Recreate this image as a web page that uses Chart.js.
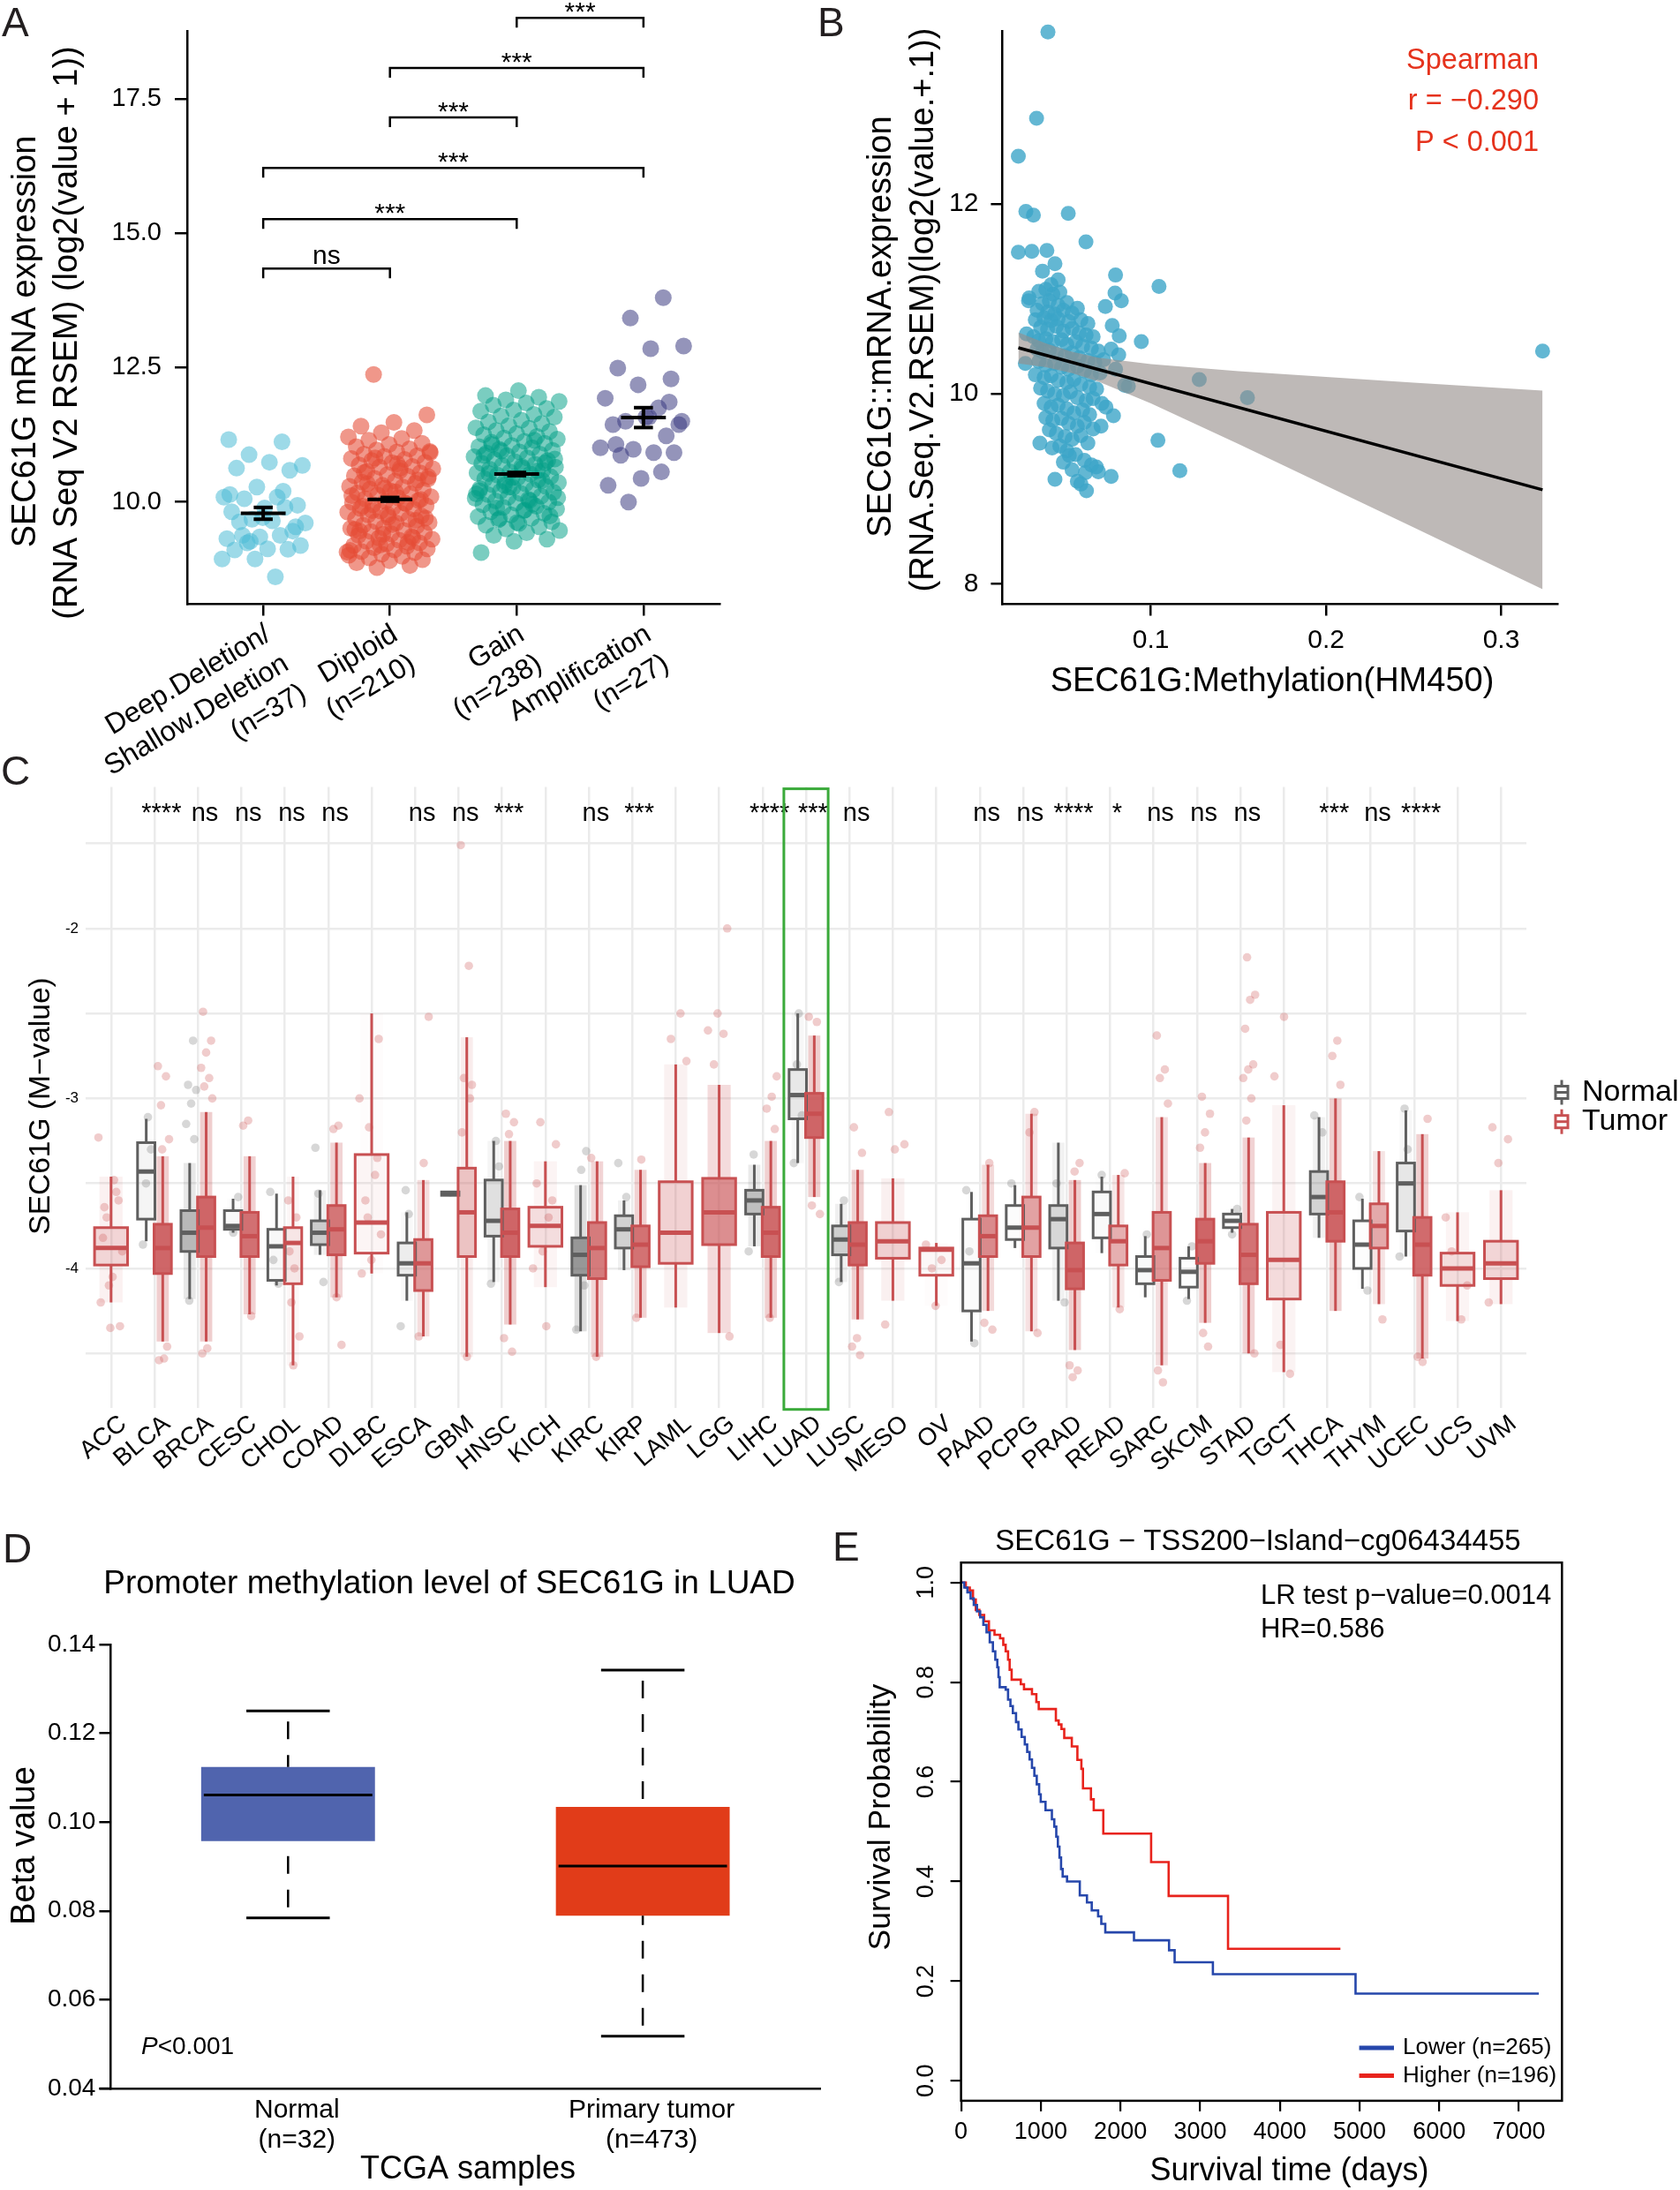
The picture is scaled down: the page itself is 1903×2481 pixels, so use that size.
<!DOCTYPE html>
<html lang="en">
<head>
<meta charset="utf-8">
<title>SEC61G expression and methylation</title>
<script src="https://cdn.jsdelivr.net/npm/chart.js@4.4.1/dist/chart.umd.min.js"></script>
<style>
html, body { margin: 0; padding: 0; background: #fff; }
#page { position: relative; width: 1903px; height: 2481px; overflow: hidden; background: #fff; }
#page canvas { position: absolute; }
.tag { position: absolute; font: 46px 'Liberation Sans', Arial, sans-serif; line-height: 1; color: #231f20; }
</style>
</head>
<body>
<div id="page">
  <canvas id="chartC" width="1903" height="840" style="left:0px;top:860px"></canvas>
  <canvas id="chartA" width="940" height="900" style="left:0px;top:0px"></canvas>
  <canvas id="chartB" width="963" height="860" style="left:940px;top:0px"></canvas>
  <canvas id="chartD" width="950" height="781" style="left:0px;top:1700px"></canvas>
  <canvas id="chartE" width="953" height="781" style="left:950px;top:1700px"></canvas>
  <div class="tag" style="left:2px;top:2px">A</div>
  <div class="tag" style="left:926px;top:2px">B</div>
  <div class="tag" style="left:1px;top:850px">C</div>
  <div class="tag" style="left:3px;top:1731px">D</div>
  <div class="tag" style="left:943px;top:1729px">E</div>
</div>
<script>
// ---- Panel A: expression by copy number ----
const cnvGroups = [['Deep.Deletion/', 'Shallow.Deletion', '(n=37)'], ['Diploid', '(n=210)'], ['Gain', '(n=238)'], ['Amplification', '(n=27)']];
const deepValues = [11.16, 11.12, 10.88, 10.68, 10.74, 10.63, 10.59, 10.28, 10.09, 10.09, 10.06, 9.94, 9.89, 9.82, 9.90, 9.68, 9.61, 9.65, 9.63, 9.46, 9.35, 9.32, 9.38, 9.24, 9.19, 9.13, 9.11, 9.12, 8.94, 8.94, 8.61, 9.38, 9.54, 9.71, 10.14, 10.20, 9.27];
const diploidValues = [12.37, 11.62, 11.48, 11.41, 11.33, 11.29, 11.21, 11.18, 11.15, 11.09, 11.07, 11.03, 10.99, 10.97, 10.94, 10.93, 10.89, 10.86, 10.85, 10.81, 10.79, 10.77, 10.74, 10.73, 10.69, 10.66, 10.65, 10.62, 10.58, 10.57, 10.54, 10.51, 10.49, 10.48, 10.44, 10.43, 10.39, 10.37, 10.35, 10.31, 10.29, 10.28, 10.24, 10.22, 10.21, 10.17, 10.15, 10.13, 10.1, 10.08, 10.06, 10.03, 10.01, 9.99, 9.97, 9.95, 9.93, 9.9, 9.88, 9.87, 9.83, 9.81, 9.79, 9.76, 9.74, 9.72, 9.69, 9.68, 9.64, 9.62, 9.61, 9.57, 9.55, 9.52, 9.51, 9.47, 9.45, 9.43, 9.41, 9.38, 9.36, 9.33, 9.31, 9.29, 9.27, 9.24, 9.22, 9.19, 9.18, 9.15, 9.13, 9.11, 9.08, 9.06, 9.03, 9.01, 8.99, 8.96, 8.93, 8.91, 8.87, 8.82, 8.78, 10.92, 10.71, 10.55, 10.41, 10.26, 10.12, 9.98, 9.84, 9.7, 9.58, 9.46, 9.34, 9.2, 9.07, 10.63, 10.34, 10.05, 9.77, 9.49, 9.25, 10.82, 10.47, 10.19, 9.92, 9.66, 9.4, 9.1];
const gainValues = [12.07, 11.98, 11.95, 11.9, 11.87, 11.84, 11.8, 11.74, 11.71, 11.69, 11.63, 11.6, 11.58, 11.52, 11.49, 11.46, 11.42, 11.38, 11.37, 11.33, 11.31, 11.27, 11.25, 11.22, 11.19, 11.17, 11.13, 11.11, 11.09, 11.05, 11.03, 11.01, 10.98, 10.96, 10.93, 10.91, 10.89, 10.86, 10.84, 10.82, 10.79, 10.77, 10.75, 10.72, 10.7, 10.68, 10.65, 10.63, 10.61, 10.59, 10.56, 10.54, 10.52, 10.5, 10.47, 10.45, 10.43, 10.41, 10.38, 10.36, 10.34, 10.32, 10.29, 10.27, 10.25, 10.23, 10.2, 10.18, 10.16, 10.14, 10.11, 10.09, 10.07, 10.05, 10.02, 10, 9.98, 9.95, 9.92, 9.9, 9.87, 9.84, 9.82, 9.79, 9.76, 9.73, 9.7, 9.67, 9.63, 9.6, 9.57, 9.54, 9.5, 9.47, 9.43, 9.38, 9.31, 9.27, 9.06, 11.15, 10.95, 10.8, 10.66, 10.53, 10.4, 10.28, 10.15, 10.03, 9.89, 9.74, 9.62, 10.87, 10.58, 10.31, 10.08, 9.85, 11.07, 10.73, 10.46, 10.21, 9.96, 9.69];
const ampValues = [13.80, 13.42, 12.90, 12.85, 12.49, 12.29, 12.18, 11.93, 11.75, 11.50, 11.44, 11.58, 11.44, 11.23, 10.98, 11.01, 10.92, 10.87, 10.92, 10.44, 10.31, 10.56, 10.00, 11.50, 11.58, 11.07, 11.86];
const cnvMeans = [9.79, 10.05, 10.52, 11.57];
const cnvSE = [0.11, 0.035, 0.03, 0.185];
const exprTicksA = [10, 12.5, 15, 17.5];
const compPairs = [[0, 1], [0, 2], [0, 3], [1, 2], [1, 3], [2, 3]];
const compY = [14.34, 15.26, 16.21, 17.15, 18.07, 19.0];
const compLabels = ['ns', '***', '***', '***', '***', '***'];

// ---- Panel B: expression vs methylation ----
const luadPoints = [
  [0.0412, 13.81], [0.0347, 12.90], [0.0243, 12.50], [0.0286, 11.92], [0.0329, 11.88], [0.0528, 11.90], [0.0629, 11.60],
  [0.0243, 11.49], [0.032, 11.50], [0.0406, 11.51], [0.0452, 11.37], [0.0381, 11.29], [0.0798, 11.25], [0.1046, 11.13],
  [0.0795, 11.06], [0.0831, 10.98], [0.0301, 10.98], [0.074, 10.92], [0.0945, 10.55], [0.0779, 10.72], [0.0819, 10.61],
  [0.0773, 10.47], [0.0816, 10.41], [0.0798, 10.26], [0.085, 10.09], [0.0871, 10.08], [0.1276, 10.15], [0.1551, 9.96],
  [0.3236, 10.45], [0.104, 9.51], [0.1165, 9.19], [0.0452, 9.10], [0.0773, 9.13], [0.0632, 8.98], [0.058, 9.08],
  [0.0626, 9.17], [0.029, 10.63], [0.0283, 10.32], [0.0366, 9.48], [0.0436, 9.43], [0.0786, 9.77], [0.0743, 9.86],
  [0.0715, 9.66], [0.0688, 9.23], [0.0534, 9.35], [0.0305, 11.01],
  [0.036, 11.08], [0.04, 11.10], [0.044, 11.05], [0.048, 11.07], [0.042, 10.98], [0.038, 10.95], [0.047, 10.93], [0.052, 10.96],
  [0.035, 10.88], [0.041, 10.86], [0.045, 10.84], [0.05, 10.88], [0.055, 10.85], [0.058, 10.9], [0.034, 10.78], [0.039, 10.8],
  [0.043, 10.77], [0.047, 10.79], [0.053, 10.76], [0.06, 10.78], [0.064, 10.74], [0.037, 10.7], [0.041, 10.68], [0.046, 10.71],
  [0.05, 10.66], [0.055, 10.69], [0.059, 10.64], [0.063, 10.62], [0.067, 10.6], [0.033, 10.6], [0.036, 10.56], [0.04, 10.58],
  [0.044, 10.55], [0.049, 10.57], [0.052, 10.52], [0.057, 10.55], [0.061, 10.5], [0.066, 10.48], [0.07, 10.45], [0.035, 10.47],
  [0.038, 10.44], [0.042, 10.46], [0.046, 10.42], [0.051, 10.4], [0.055, 10.43], [0.059, 10.38], [0.064, 10.35], [0.068, 10.33],
  [0.073, 10.36], [0.036, 10.34], [0.04, 10.3], [0.045, 10.32], [0.049, 10.28], [0.053, 10.26], [0.058, 10.29], [0.062, 10.24],
  [0.066, 10.2], [0.071, 10.22], [0.034, 10.2], [0.039, 10.17], [0.043, 10.19], [0.047, 10.14], [0.052, 10.12], [0.056, 10.15],
  [0.06, 10.1], [0.065, 10.07], [0.069, 10.05], [0.037, 10.06], [0.041, 10.03], [0.045, 10.0], [0.05, 9.98], [0.054, 10.02],
  [0.058, 9.96], [0.063, 9.93], [0.067, 9.95], [0.072, 9.9], [0.039, 9.9], [0.043, 9.86], [0.047, 9.88], [0.052, 9.84],
  [0.056, 9.8], [0.061, 9.83], [0.065, 9.78], [0.04, 9.75], [0.044, 9.72], [0.049, 9.74], [0.053, 9.69], [0.058, 9.66],
  [0.062, 9.7], [0.067, 9.63], [0.042, 9.62], [0.046, 9.58], [0.051, 9.55], [0.055, 9.52], [0.06, 9.56], [0.064, 9.48],
  [0.048, 9.45], [0.052, 9.4], [0.057, 9.36], [0.062, 9.3], [0.066, 9.25], [0.05, 9.28], [0.055, 9.2], [0.07, 9.18],
  [0.06, 9.05], [0.047, 11.2], [0.043, 11.15]
];
const regX = [0.0243, 0.3236];
const regY = [10.484, 8.989];
const bandX = [0.0243, 0.04, 0.055, 0.07, 0.1, 0.15, 0.2, 0.25, 0.3236];
const bandUpper = [10.648, 10.532, 10.442, 10.381, 10.312, 10.239, 10.177, 10.117, 10.034];
const bandLower = [10.320, 10.280, 10.218, 10.129, 9.898, 9.471, 9.033, 8.593, 7.944];
const methTicksB = [0.1, 0.2, 0.3];
const exprTicksB = [8, 10, 12];

// ---- Panel C: pan-cancer methylation M-values ----
const cancerTypes = ['ACC', 'BLCA', 'BRCA', 'CESC', 'CHOL', 'COAD', 'DLBC', 'ESCA', 'GBM', 'HNSC', 'KICH', 'KIRC', 'KIRP', 'LAML', 'LGG', 'LIHC', 'LUAD', 'LUSC', 'MESO', 'OV', 'PAAD', 'PCPG', 'PRAD', 'READ', 'SARC', 'SKCM', 'STAD', 'TGCT', 'THCA', 'THYM', 'UCEC', 'UCS', 'UVM'];
const sigLabels = ['', '****', 'ns', 'ns', 'ns', 'ns', '', 'ns', 'ns', '***', '', 'ns', '***', '', '', '****', '***', 'ns', '', '', 'ns', 'ns', '****', '*', 'ns', 'ns', 'ns', '', '***', 'ns', '****', '', ''];
const normalLow  = [null, -3.84, -4.18, -3.79, -4.10, -3.92, null, -4.19, -3.575, -4.08, null, -4.37, -4.01, null, null, -3.87, -3.38, -4.08, null, null, -4.43, -3.88, -4.19, -3.91, -4.17, -4.18, -3.79, null, -3.82, -4.12, -3.93, null, null];
const normalQ1   = [null, -3.71, -3.90, -3.77, -4.07, -3.86, null, -4.04, -3.57, -3.81, null, -4.04, -3.88, null, null, -3.68, -3.12, -3.92, null, null, -4.25, -3.83, -3.88, -3.82, -4.09, -4.11, -3.76, null, -3.68, -4.00, -3.78, null, null];
const normalMed  = [null, -3.43, -3.79, -3.75, -3.87, -3.79, null, -3.97, -3.56, -3.72, null, -3.92, -3.77, null, null, -3.60, -2.98, -3.83, null, null, -3.97, -3.76, -3.71, -3.68, -4.01, -4.02, -3.72, null, -3.58, -3.86, -3.50, null, null];
const normalQ3   = [null, -3.26, -3.66, -3.66, -3.77, -3.72, null, -3.85, -3.55, -3.48, null, -3.82, -3.69, null, null, -3.54, -2.83, -3.75, null, null, -3.71, -3.63, -3.63, -3.55, -3.93, -3.94, -3.68, null, -3.43, -3.72, -3.38, null, null];
const normalHigh = [null, -3.12, -3.38, -3.59, -3.56, -3.54, null, -3.67, -3.545, -3.25, null, -3.51, -3.60, null, null, -3.39, -2.50, -3.62, null, null, -3.55, -3.51, -3.26, -3.46, -3.81, -3.87, -3.65, null, -3.11, -3.59, -3.07, null, null];
const tumorLow  = [-4.20, -4.43, -4.43, -4.27, -4.57, -4.17, -4.03, -4.40, -4.52, -4.33, -4.11, -4.52, -4.29, -4.23, -4.38, -4.29, -3.58, -4.30, -4.19, -4.22, -4.25, -4.37, -4.48, -4.23, -4.57, -4.32, -4.50, -4.61, -4.25, -4.21, -4.53, -4.31, -4.21];
const tumorQ1   = [-3.98, -4.03, -3.93, -3.93, -4.09, -3.92, -3.91, -4.13, -3.93, -3.93, -3.87, -4.06, -3.99, -3.97, -3.86, -3.93, -3.23, -3.98, -3.94, -4.04, -3.93, -3.93, -4.12, -3.98, -4.07, -3.97, -4.09, -4.18, -3.84, -3.88, -4.04, -4.10, -4.06];
const tumorMed  = [-3.88, -3.88, -3.76, -3.81, -3.85, -3.77, -3.73, -3.97, -3.67, -3.79, -3.75, -3.88, -3.86, -3.79, -3.67, -3.79, -3.09, -3.86, -3.84, -3.89, -3.81, -3.76, -4.01, -3.84, -3.88, -3.84, -3.92, -3.95, -3.67, -3.75, -3.86, -4.00, -3.97];
const tumorQ3   = [-3.76, -3.74, -3.58, -3.67, -3.76, -3.63, -3.33, -3.83, -3.41, -3.65, -3.64, -3.73, -3.75, -3.49, -3.47, -3.64, -2.97, -3.73, -3.73, -3.88, -3.69, -3.58, -3.85, -3.75, -3.67, -3.71, -3.74, -3.67, -3.49, -3.62, -3.70, -3.91, -3.84];
const tumorHigh = [-3.46, -3.34, -3.08, -3.34, -3.46, -3.26, -2.50, -3.48, -2.64, -3.25, -3.37, -3.37, -3.42, -2.80, -2.92, -3.25, -2.63, -3.42, -3.47, -3.85, -3.39, -3.09, -3.48, -3.45, -3.11, -3.38, -3.23, -3.04, -3.00, -3.31, -3.21, -3.67, -3.54];
const normalCount = [0, 21, 98, 3, 9, 38, 0, 16, 2, 50, 0, 160, 45, 0, 0, 50, 32, 42, 0, 0, 10, 3, 50, 7, 4, 2, 2, 0, 56, 2, 46, 0, 0];
const tumorCount = [80, 419, 793, 309, 36, 313, 48, 186, 153, 528, 66, 325, 276, 194, 534, 379, 473, 370, 87, 10, 184, 184, 502, 99, 261, 475, 395, 156, 515, 124, 438, 57, 80];
const normalPoints = [[], [-3.11, -3.86, -3.3, -3.5], [-2.66, -2.92, -2.95, -3.03, -3.15, -3.24, -4.19], [-3.58, -3.79], [-3.55, -4.09, -3.95],
  [-3.29, -4.08, -3.56], [], [-3.54, -4.34, -3.68], [], [-3.25, -4.09, -3.4], [], [-3.31, -3.42, -4.36, -4.1], [-3.38, -3.58], [], [],
  [-3.33, -3.9], [-2.5, -3.38, -3.1, -2.8], [-3.6, -4.08], [], [], [-3.54, -4.44, -3.9], [-3.5], [-3.5, -4.2], [-3.45], [-3.8],
  [-3.87, -4.19], [-3.65, -3.8], [], [-3.1, -3.2], [-3.58, -4.13], [-3.06, -3.93, -3.3], [], []];
const tumorPoints = [[-3.23, -3.48, -3.64, -4.34, -4.35, -4.2, -3.55, -3.7, -3.9, -4.05, -3.82, -3.6, -4.1], [-2.81, -2.87, -3.04, -3.24, -4.53, -4.54, -4.46, -3.3],
  [-2.49, -2.66, -2.73, -2.82, -2.88, -2.93, -3.0, -4.47, -4.5], [-3.13, -3.16, -4.28], [-4.57, -3.6, -3.7, -4.2, -4.4, -4.0, -3.9], [-3.16, -3.18, -4.45, -4.17],
  [-2.65, -3.17, -3.0, -3.45, -3.6, -3.8, -3.95, -4.03, -3.35, -3.7], [-2.52, -3.38, -4.4], [-1.51, -2.22, -2.88, -2.92, -4.52, -3.2, -3.0],
  [-3.09, -3.14, -3.21, -4.41, -4.49], [-3.14, -3.27, -4.34, -3.5, -3.6, -3.9, -4.0, -3.7], [-4.52, -3.35], [-3.36, -4.29], [-2.5, -2.65, -2.78],
  [-2.0, -2.5, -2.6, -2.62, -2.8, -4.4], [-2.87, -2.99, -3.06, -3.18, -4.29], [-2.52, -2.55, -3.63, -3.68], [-3.17, -3.32, -4.41, -4.46, -4.51],
  [-3.08, -3.27, -3.3, -4.33], [-4.22, -3.86, -3.95, -4.0], [-3.38, -4.32, -4.36], [-3.08, -3.2, -4.38], [-3.38, -3.43, -4.57, -4.6, -4.64],
  [-3.44, -4.24], [-2.63, -2.83, -2.88, -3.03, -4.67, -4.6], [-2.99, -3.09, -3.2, -3.29, -4.46, -4.38],
  [-2.17, -2.39, -2.42, -2.59, -2.8, -2.83, -2.88, -3.0, -3.13, -4.5], [-2.52, -2.87, -4.62, -4.45], [-2.66, -2.75, -2.92], [-4.3],
  [-3.12, -4.55, -4.52], [-3.7, -4.3, -3.9, -4.1], [-3.17, -3.24, -3.38, -4.2]];
const mTicks = [-4.5, -4, -3.5, -3, -2.5, -2, -1.5];

// ---- Panel D: promoter methylation boxplot ----
const dGroups = [['Normal', '(n=32)'], ['Primary tumor', '(n=473)']];
const dLow = [0.0784, 0.0518];
const dQ1 = [0.0957, 0.0789];
const dMed = [0.1061, 0.0901];
const dQ3 = [0.1124, 0.1034];
const dHigh = [0.1250, 0.1342];
const betaTicks = [0.04, 0.06, 0.08, 0.10, 0.12, 0.14];

// ---- Panel E: Kaplan-Meier ----
const lowerTime = [0, 40, 80, 120, 160, 200, 240, 280, 320, 360, 400, 430, 455, 470, 485, 560, 590, 620, 650, 690, 720, 760, 800, 830, 860, 890, 920, 950, 980, 1000, 1060, 1140, 1170, 1195, 1215, 1235, 1255, 1275, 1330, 1490, 1580, 1640, 1720, 1760, 1810, 2170, 2610, 2680, 3160, 4950, 7250];
const lowerSurv = [1, 0.99, 0.98, 0.968, 0.955, 0.942, 0.93, 0.915, 0.9, 0.88, 0.862, 0.845, 0.83, 0.81, 0.79, 0.785, 0.765, 0.752, 0.738, 0.72, 0.705, 0.69, 0.675, 0.66, 0.645, 0.628, 0.612, 0.595, 0.575, 0.56, 0.543, 0.525, 0.51, 0.49, 0.47, 0.448, 0.425, 0.41, 0.4, 0.372, 0.358, 0.342, 0.33, 0.315, 0.298, 0.282, 0.262, 0.238, 0.214, 0.175, 0.175];
const higherTime = [0, 60, 110, 150, 185, 230, 290, 350, 420, 490, 530, 560, 590, 610, 635, 750, 790, 890, 945, 975, 1190, 1225, 1260, 1295, 1390, 1460, 1510, 1530, 1630, 1665, 1785, 2385, 2605, 3350, 4760];
const higherSurv = [1, 0.99, 0.984, 0.966, 0.945, 0.935, 0.922, 0.904, 0.895, 0.888, 0.875, 0.862, 0.845, 0.825, 0.805, 0.796, 0.786, 0.776, 0.76, 0.746, 0.723, 0.715, 0.706, 0.688, 0.671, 0.644, 0.626, 0.587, 0.565, 0.543, 0.496, 0.439, 0.371, 0.265, 0.265];
const survTicks = [0, 1000, 2000, 3000, 4000, 5000, 6000, 7000];
const probTicks = [0, 0.2, 0.4, 0.6, 0.8, 1.0];

// ---------------------------------------------------------------
const FONT = "'Liberation Sans', Arial, Helvetica, sans-serif";
Chart.defaults.font.family = FONT;
Chart.defaults.color = '#000';
Chart.defaults.animation = false;
Chart.defaults.responsive = false;
Chart.defaults.events = [];
Chart.defaults.plugins.legend.display = false;
Chart.defaults.plugins.tooltip.enabled = false;

const blackBorder = { display: true, color: '#000', width: 2.5 };
function axisTicks(len) {
    return { display: true, drawOnChartArea: false, drawTicks: true, tickLength: len, color: '#000', lineWidth: 2.5 };
}
function fixedTicks(values) {
    return s => { s.ticks = values.map(v => ({ value: v })); };
}
// small deterministic spread used for horizontal jitter of points
function spread(k, seed) {
    return ((k * 0.6180339887 + seed) % 1) - 0.5;
}
function txt(ctx, s, x, y, size, o = {}) {
    ctx.save();
    ctx.font = (o.style ? o.style + ' ' : '') + size + 'px ' + FONT;
    ctx.fillStyle = o.color || '#000';
    ctx.textAlign = o.align || 'center';
    ctx.textBaseline = o.baseline || 'middle';
    ctx.translate(x, y);
    if (o.rot) ctx.rotate(o.rot);
    ctx.fillText(s, 0, 0);
    ctx.restore();
}
function seg(ctx, x1, y1, x2, y2) {
    ctx.beginPath();
    ctx.moveTo(x1, y1);
    ctx.lineTo(x2, y2);
    ctx.stroke();
}
const UP = -Math.PI / 2;

// ---------------- Panel A ----------------
const cnvSeries = [deepValues, diploidValues, gainValues, ampValues];
const cnvColors = ['rgba(77,187,213,0.55)', 'rgba(230,75,53,0.58)', 'rgba(0,160,135,0.52)', 'rgba(60,60,130,0.55)'];

const cnvExtras = {
    id: 'cnvExtras',
    afterDatasetsDraw(chart) {
        const { ctx, scales: { x, y } } = chart;
        ctx.save();
        ctx.strokeStyle = '#000';
        ctx.lineWidth = 4;
        cnvMeans.forEach((m, g) => {
            const cx = x.getPixelForValue(g);
            const half = x.getPixelForValue(g + 0.177) - cx;
            const cap = x.getPixelForValue(g + 0.075) - cx;
            const yT = y.getPixelForValue(m + cnvSE[g]);
            const yB = y.getPixelForValue(m - cnvSE[g]);
            const yM = y.getPixelForValue(m);
            seg(ctx, cx - half, yM, cx + half, yM);
            seg(ctx, cx, yT, cx, yB);
            seg(ctx, cx - cap, yT, cx + cap, yT);
            seg(ctx, cx - cap, yB, cx + cap, yB);
        });
        ctx.lineWidth = 2.5;
        compPairs.forEach(([a, b], i) => {
            const x1 = x.getPixelForValue(a), x2 = x.getPixelForValue(b);
            const yy = y.getPixelForValue(compY[i]);
            const tip = y.getPixelForValue(compY[i] - 0.18);
            ctx.beginPath();
            ctx.moveTo(x1, tip); ctx.lineTo(x1, yy); ctx.lineTo(x2, yy); ctx.lineTo(x2, tip);
            ctx.stroke();
            const stars = compLabels[i].indexOf('*') >= 0;
            txt(ctx, compLabels[i], (x1 + x2) / 2, stars ? yy + 3 : yy - 5, 30, { baseline: 'alphabetic' });
        });
        ctx.restore();
        txt(ctx, 'SEC61G mRNA expression', 30, 387, 38, { rot: UP });
        txt(ctx, '(RNA Seq V2 RSEM) (log2(value + 1))', 77, 377, 38, { rot: UP });
    }
};

new Chart(document.getElementById('chartA'), {
    type: 'scatter',
    data: {
        datasets: cnvSeries.map((vals, g) => ({
            data: vals.map((v, k) => ({ x: g + spread(k, 0.21 * g + 0.1) * 0.68, y: v })),
            backgroundColor: cnvColors[g],
            borderWidth: 0,
            pointRadius: 9.5,
            clip: false
        }))
    },
    options: {
        devicePixelRatio: 1,
        layout: { padding: { left: 0, top: 35.6, right: 125, bottom: 0 } },
        scales: {
            x: {
                type: 'linear', min: -0.6, max: 3.6,
                afterBuildTicks: fixedTicks([0, 1, 2, 3]),
                afterFit: s => { s.height = 215.5; },
                ticks: { autoSkip: false, minRotation: 31, maxRotation: 31, padding: 2, labelOffset: 6, font: { size: 32, lineHeight: 1.22 }, callback: v => cnvGroups[v] },
                grid: axisTicks(13),
                border: blackBorder
            },
            y: {
                min: 8.1, max: 18.75,
                afterBuildTicks: fixedTicks(exprTicksA),
                afterFit: s => { s.width = 212; },
                ticks: { padding: 15, font: { size: 29 }, callback: v => v.toFixed(1) },
                grid: axisTicks(14),
                border: blackBorder
            }
        }
    },
    plugins: [cnvExtras]
});

// ---------------- Panel B ----------------
const corrExtras = {
    id: 'corrExtras',
    afterDraw(chart) {
        const ctx = chart.ctx;
        const red = '#e5321c';
        txt(ctx, 'Spearman', 803, 68.6, 32.5, { align: 'right', color: red });
        txt(ctx, 'r = \u22120.290', 803, 115, 32.5, { align: 'right', color: red });
        txt(ctx, 'P < 0.001', 803, 161.8, 32.5, { align: 'right', color: red });
        txt(ctx, 'SEC61G:Methylation(HM450)', 501, 773, 38);
        txt(ctx, 'SEC61G::mRNA.expression', 58.6, 370, 38, { rot: UP });
        txt(ctx, '(RNA.Seq.V2.RSEM)(log2(value.+.1))', 107, 351, 38, { rot: UP });
    }
};

new Chart(document.getElementById('chartB'), {
    type: 'scatter',
    data: {
        datasets: [
            { data: luadPoints.map(p => ({ x: p[0], y: p[1] })), backgroundColor: 'rgba(60,165,200,0.8)', borderWidth: 0, pointRadius: 8.5, clip: false, order: 4 },
            { data: bandX.map((v, i) => ({ x: v, y: bandUpper[i] })), showLine: true, pointRadius: 0, borderColor: 'rgba(0,0,0,0)', fill: '+1', backgroundColor: 'rgba(150,142,138,0.62)', order: 3 },
            { data: bandX.map((v, i) => ({ x: v, y: bandLower[i] })), showLine: true, pointRadius: 0, borderColor: 'rgba(0,0,0,0)', fill: false, order: 3 },
            { data: regX.map((v, i) => ({ x: v, y: regY[i] })), showLine: true, pointRadius: 0, borderColor: '#000', borderWidth: 3.5, order: 1 }
        ]
    },
    options: {
        devicePixelRatio: 1,
        layout: { padding: { left: 0, top: 35.6, right: 138.6, bottom: 0 } },
        plugins: { filler: { drawTime: 'beforeDatasetDraw' } },
        scales: {
            x: {
                type: 'linear', min: 0.01517, max: 0.3322,
                afterBuildTicks: fixedTicks(methTicksB),
                afterFit: s => { s.height = 175.5; },
                ticks: { padding: 10, font: { size: 30 }, callback: v => v.toFixed(1) },
                grid: axisTicks(13),
                border: blackBorder
            },
            y: {
                min: 7.785, max: 13.815,
                afterBuildTicks: fixedTicks(exprTicksB),
                afterFit: s => { s.width = 195.4; },
                ticks: { padding: 14, font: { size: 30 }, callback: v => String(v) },
                grid: axisTicks(13),
                border: blackBorder
            }
        }
    },
    plugins: [corrExtras]
});

// ---------------- Panel C ----------------
const C_RED = [200, 80, 82];
const C_GRAY = [95, 95, 95];
const rgba = (c, a) => `rgba(${c[0]},${c[1]},${c[2]},${a})`;

function eachBox(cb) {
    cancerTypes.forEach((name, i) => {
        const paired = normalMed[i] !== null;
        if (paired) {
            cb(i - 0.19, 0.2, [normalLow[i], normalQ1[i], normalMed[i], normalQ3[i], normalHigh[i]], C_GRAY, normalCount[i]);
        }
        cb(paired ? i + 0.19 : i, paired ? 0.2 : 0.38, [tumorLow[i], tumorQ1[i], tumorMed[i], tumorQ3[i], tumorHigh[i]], C_RED, tumorCount[i]);
    });
}

function jitterPoints(lists, isNormal) {
    const out = [];
    cancerTypes.forEach((name, i) => {
        const paired = normalMed[i] !== null;
        const c = isNormal ? i - 0.19 : (paired ? i + 0.19 : i);
        const w = paired ? 0.3 : 0.58;
        lists[i].forEach((v, k) => out.push({ x: c + spread(k, 0.13 * i + (isNormal ? 0.5 : 0)) * w, y: v }));
    });
    return out;
}

const methBoxes = {
    id: 'methBoxes',
    beforeDatasetsDraw(chart) {
        const { ctx, scales: { x, y } } = chart;
        ctx.save();
        eachBox((c, h, s, col, n) => {
            const xl = x.getPixelForValue(c - h), xr = x.getPixelForValue(c + h);
            // shade by how crowded the jittered samples are
            const dens = n / ((s[3] - s[1]) * h / 0.2);
            const a = Math.min(0.88, 1 - Math.exp(-dens / 700));
            const xc = (xl + xr) / 2, w = (xr - xl) * 0.7;
            const yHi = y.getPixelForValue(s[4]), y3 = y.getPixelForValue(s[3]);
            const y1 = y.getPixelForValue(s[1]), yLo = y.getPixelForValue(s[0]);
            ctx.fillStyle = rgba(col, a * 0.32);
            ctx.fillRect(xc - w / 2, yHi, w, y3 - yHi);
            ctx.fillRect(xc - w / 2, y1, w, yLo - y1);
            ctx.fillStyle = rgba(col, a);
            ctx.fillRect(xl, y3, xr - xl, y1 - y3);
        });
        ctx.restore();
    },
    afterDatasetsDraw(chart) {
        const { ctx, chartArea: ca, scales: { x, y } } = chart;
        ctx.save();
        eachBox((c, h, s, col) => {
            const xl = x.getPixelForValue(c - h), xr = x.getPixelForValue(c + h);
            const xc = (xl + xr) / 2;
            const [yLo, y1, yM, y3, yHi] = s.map(v => y.getPixelForValue(v));
            ctx.strokeStyle = rgba(col, 1);
            ctx.lineWidth = 3;
            seg(ctx, xc, yHi, xc, y3);
            seg(ctx, xc, y1, xc, yLo);
            ctx.strokeRect(xl, y3, xr - xl, y1 - y3);
            ctx.lineWidth = 5;
            seg(ctx, xl, yM, xr, yM);
        });
        // significance labels
        sigLabels.forEach((lab, i) => {
            if (lab) txt(ctx, lab, x.getPixelForValue(i + 0.16), ca.top + 38.4, 29, { baseline: 'alphabetic' });
        });
        // highlight LUAD
        const li = cancerTypes.indexOf('LUAD');
        ctx.strokeStyle = '#3aaa3a';
        ctx.lineWidth = 3;
        const gx1 = x.getPixelForValue(li - 0.51), gx2 = x.getPixelForValue(li + 0.51);
        ctx.strokeRect(gx1, ca.top + 2, gx2 - gx1, ca.bottom - ca.top);
        // legend
        [['Normal', C_GRAY, 377.5], ['Tumor', C_RED, 410.7]].forEach(([name, col, ly]) => {
            ctx.strokeStyle = rgba(col, 1);
            ctx.lineWidth = 3;
            seg(ctx, 1769, ly - 14, 1769, ly + 14);
            ctx.fillStyle = '#fff';
            ctx.fillRect(1762, ly - 7, 14, 14);
            ctx.strokeRect(1762, ly - 7, 14, 14);
            seg(ctx, 1762, ly, 1776, ly);
            txt(ctx, name, 1792, ly, 34, { align: 'left' });
        });
        ctx.restore();
        txt(ctx, 'SEC61G (M\u2212value)', 47, 393, 33.5, { rot: UP });
    }
};

new Chart(document.getElementById('chartC'), {
    type: 'scatter',
    data: {
        datasets: [
            { data: jitterPoints(normalPoints, true), backgroundColor: 'rgba(110,110,110,0.28)', borderWidth: 0, pointRadius: 4.8 },
            { data: jitterPoints(tumorPoints, false), backgroundColor: 'rgba(205,85,85,0.3)', borderWidth: 0, pointRadius: 4.8 }
        ]
    },
    options: {
        devicePixelRatio: 1,
        layout: { padding: { left: 0, top: 31.6, right: 174, bottom: 0 } },
        scales: {
            x: {
                type: 'linear', min: -0.585, max: 32.585,
                afterBuildTicks: fixedTicks(cancerTypes.map((_, i) => i)),
                afterFit: s => { s.height = 105.3; },
                ticks: { autoSkip: false, minRotation: 40, maxRotation: 40, padding: 2, labelOffset: 14, font: { size: 28 }, callback: v => cancerTypes[v] },
                grid: { color: '#ebebeb', lineWidth: 2.5, drawTicks: false },
                border: { display: false }
            },
            y: {
                min: -4.819, max: -1.168,
                afterBuildTicks: fixedTicks(mTicks),
                afterFit: s => { s.width = 97; },
                ticks: { padding: 8, font: { size: 17 }, callback: v => (Number.isInteger(v) ? String(v) : '') },
                grid: { color: '#ebebeb', lineWidth: 2.5, drawTicks: false },
                border: { display: false }
            }
        }
    },
    plugins: [methBoxes]
});

// ---------------- Panel D ----------------
const dExtras = {
    id: 'dExtras',
    afterDatasetsDraw(chart) {
        const { ctx, chartArea: ca, scales: { y } } = chart;
        const meta = chart.getDatasetMeta(0);
        ctx.save();
        ctx.strokeStyle = '#000';
        dGroups.forEach((g, i) => {
            const bar = meta.data[i];
            const xc = bar.x, bw = bar.width, cap = bw * 0.24;
            const yHi = y.getPixelForValue(dHigh[i]), yLo = y.getPixelForValue(dLow[i]);
            const y3 = y.getPixelForValue(dQ3[i]), y1 = y.getPixelForValue(dQ1[i]), yM = y.getPixelForValue(dMed[i]);
            ctx.lineWidth = 2.5;
            ctx.setLineDash([20, 18]);
            ctx.lineDashOffset = -12;
            seg(ctx, xc, yHi, xc, y3);
            seg(ctx, xc, yLo, xc, y1);
            ctx.setLineDash([]);
            ctx.lineWidth = 3;
            seg(ctx, xc - cap, yHi, xc + cap, yHi);
            seg(ctx, xc - cap, yLo, xc + cap, yLo);
            seg(ctx, xc - bw / 2 + 3, yM, xc + bw / 2 - 3, yM);
        });
        ctx.lineWidth = 2.5;
        seg(ctx, ca.left - 13, ca.bottom, ca.left, ca.bottom);
        ctx.restore();
        txt(ctx, 'Promoter methylation level of SEC61G in LUAD', 509, 94.6, 37);
        ctx.save();
        ctx.font = 'italic 28px ' + FONT;
        const pw = ctx.measureText('P').width;
        ctx.restore();
        txt(ctx, 'P', 160, 619, 28, { align: 'left', style: 'italic' });
        txt(ctx, '<0.001', 160 + pw, 619, 28, { align: 'left' });
        txt(ctx, 'TCGA samples', 530, 758, 36);
        txt(ctx, 'Beta value', 29, 391, 38, { rot: UP });
    }
};

new Chart(document.getElementById('chartD'), {
    type: 'bar',
    data: {
        labels: dGroups,
        datasets: [{ data: dQ1.map((v, i) => [v, dQ3[i]]), backgroundColor: ['#5064ae', '#e13c19'], borderWidth: 0, barPercentage: 0.49, categoryPercentage: 1 }]
    },
    options: {
        devicePixelRatio: 1,
        layout: { padding: { left: 0, top: 162.9, right: 21, bottom: 0 } },
        scales: {
            x: {
                afterFit: s => { s.height = 115; },
                ticks: { padding: 0, labelOffset: 10, font: { size: 30, lineHeight: 1.13 } },
                grid: { display: false },
                border: blackBorder
            },
            y: {
                min: 0.04, max: 0.14,
                afterBuildTicks: fixedTicks(betaTicks),
                afterFit: s => { s.width = 125.4; },
                ticks: { padding: 4, font: { size: 28 }, callback: v => v.toFixed(2) },
                grid: axisTicks(13),
                border: blackBorder
            }
        }
    },
    plugins: [dExtras]
});

// ---------------- Panel E ----------------
const KM_BLUE = '#2647ab';
const KM_RED = '#e8231c';
const kmExtras = {
    id: 'kmExtras',
    afterDraw(chart) {
        const { ctx, chartArea: ca } = chart;
        ctx.save();
        ctx.strokeStyle = '#000';
        ctx.lineWidth = 2.5;
        ctx.strokeRect(ca.left, ca.top, ca.right - ca.left, ca.bottom - ca.top);
        ctx.lineWidth = 5;
        ctx.strokeStyle = KM_BLUE;
        seg(ctx, 589.6, 620, 629, 620);
        ctx.strokeStyle = KM_RED;
        seg(ctx, 589.6, 651.5, 629, 651.5);
        ctx.restore();
        txt(ctx, 'Lower (n=265)', 639, 620, 26, { align: 'left' });
        txt(ctx, 'Higher (n=196)', 639, 651.5, 26, { align: 'left' });
        txt(ctx, 'SEC61G \u2212 TSS200\u2212Island\u2212cg06434455', 475, 47, 33);
        txt(ctx, 'LR test p\u2212value=0.0014', 478, 108.6, 31, { align: 'left' });
        txt(ctx, 'HR=0.586', 478, 146, 31, { align: 'left' });
        txt(ctx, 'Survival Probability', 48.6, 358.6, 35.5, { rot: UP });
        txt(ctx, 'Survival time (days)', 510.5, 759.6, 36);
    }
};

new Chart(document.getElementById('chartE'), {
    type: 'line',
    data: {
        datasets: [
            { data: lowerTime.map((t, i) => ({ x: t, y: lowerSurv[i] })), borderColor: KM_BLUE, borderWidth: 2.6, pointRadius: 0, stepped: true, fill: false },
            { data: higherTime.map((t, i) => ({ x: t, y: higherSurv[i] })), borderColor: KM_RED, borderWidth: 2.6, pointRadius: 0, stepped: true, fill: false }
        ]
    },
    options: {
        devicePixelRatio: 1,
        layout: { padding: { left: 0, top: 70.2, right: 133.7, bottom: 0 } },
        scales: {
            x: {
                type: 'linear', min: 0, max: 7540,
                afterBuildTicks: fixedTicks(survTicks),
                afterFit: s => { s.height = 101.1; },
                ticks: { padding: 7, font: { size: 27 }, callback: v => String(v) },
                grid: { display: true, drawOnChartArea: false, drawTicks: true, tickLength: 12, color: '#000', lineWidth: 2.2 },
                border: { display: false }
            },
            y: {
                type: 'linear', min: -0.04, max: 1.04,
                afterBuildTicks: fixedTicks(probTicks),
                afterFit: s => { s.width = 138.6; },
                ticks: { padding: 8, minRotation: 90, maxRotation: 90, crossAlign: 'center', font: { size: 27 }, callback: v => v.toFixed(1) },
                grid: { display: true, drawOnChartArea: false, drawTicks: true, tickLength: 12, color: '#000', lineWidth: 2.2 },
                border: { display: false }
            }
        }
    },
    plugins: [kmExtras]
});
</script>
</body>
</html>
